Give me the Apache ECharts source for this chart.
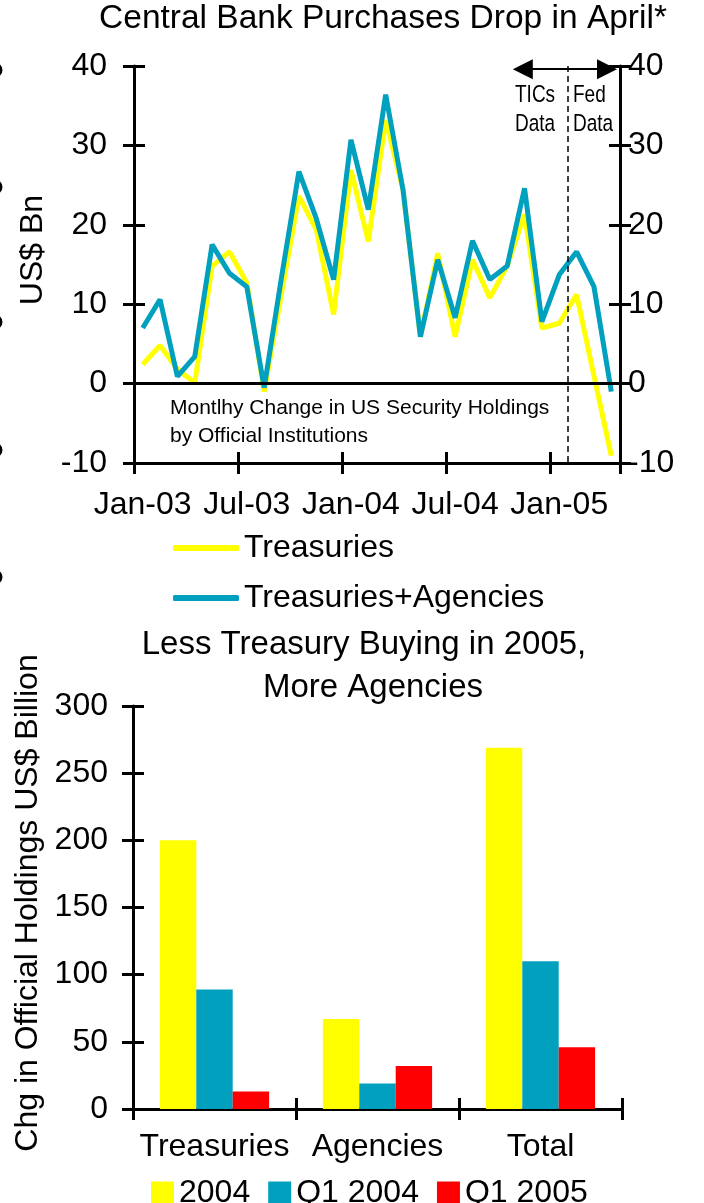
<!DOCTYPE html>
<html>
<head>
<meta charset="utf-8">
<script src="https://cdn.jsdelivr.net/npm/echarts@6/dist/echarts.min.js"></script>
<style>
  html, body { margin: 0; padding: 0; background: #fff; }
  #chart { width: 704px; height: 1203px; }
</style>
</head>
<body>
<div id="chart"></div>
<script>
//---------------------------Data---------------------------
//monthly change, US$ Bn
let months = ['Jan-03','Feb-03','Mar-03','Apr-03','May-03','Jun-03','Jul-03','Aug-03','Sep-03','Oct-03','Nov-03','Dec-03',
              'Jan-04','Feb-04','Mar-04','Apr-04','May-04','Jun-04','Jul-04','Aug-04','Sep-04','Oct-04','Nov-04','Dec-04',
              'Jan-05','Feb-05','Mar-05','Apr-05'];
let treasuries = [2.4, 4.8, 1.8, 0.1, 14.8, 16.6, 12.7, -1.0, 11.4, 23.6, 19.4, 8.7,
                  26.9, 17.9, 33.2, 24.4, 5.9, 16.4, 5.9, 15.6, 10.8, 14.8, 21.3, 7.0,
                  7.6, 11.2, 1.0, -9.1];
let treasAgencies = [7.0, 10.6, 0.9, 3.4, 17.5, 13.9, 12.2, -0.5, 13.4, 26.7, 20.8, 13.1,
                     30.7, 21.9, 36.4, 24.4, 5.9, 15.6, 8.3, 18.0, 13.1, 14.8, 24.6, 7.8,
                     13.7, 16.6, 12.2, -1.0];
//TICs / Fed split (month boundary index)
let splitAt = 25;

//holdings change, US$ Billion
let groups = ['Treasuries', 'Agencies', 'Total'];
let y2004 = [200, 67, 269];
let q1y2004 = [89, 19, 110];
let q1y2005 = [13, 32, 46];

//---------------------------Style---------------------------
let font = "'Liberation Sans', Arial, sans-serif";
let yellow = '#FFFF00';
let teal = '#00A0BE';
let red = '#FF0000';
let black = '#000';

let chart = echarts.init(document.getElementById('chart'));

function txt(x, y, s, size, extra) {
    let o = {
        type: 'text', x: x, y: y, silent: true,
        style: { text: s, fontSize: size, fontFamily: font, fill: black, align: 'center', verticalAlign: 'middle' }
    };
    if (extra) {
        for (let k in extra) { o[k] = extra[k]; }
    }
    return o;
}

function edgeArc(y) {
    return { type: 'circle', shape: { cx: -5, cy: y, r: 6 }, style: { fill: 'none', stroke: black, lineWidth: 3 }, silent: true };
}

//axis helpers
function catAxis(grid, data, tickInside, showLabel, interval) {
    return {
        type: 'category', gridIndex: grid, data: data, position: 'bottom', boundaryGap: true,
        axisLine: { show: !tickInside, onZero: false, lineStyle: { color: black, width: 3 } },
        axisTick: { show: true, inside: tickInside, length: 11, interval: interval, lineStyle: { color: black, width: 3 } },
        axisLabel: { show: showLabel, interval: interval, color: black, fontSize: 32, fontFamily: font, margin: grid == 0 ? 26 : 22 },
        splitLine: { show: false }
    };
}

function valAxis(grid, pos, min, max, step, tickInside, showLabel, margin) {
    return {
        type: 'value', gridIndex: grid, position: pos, min: min, max: max, interval: step,
        axisLine: { show: !tickInside, onZero: false, lineStyle: { color: black, width: 3 } },
        axisTick: { show: true, inside: tickInside, length: 11, lineStyle: { color: black, width: 3 } },
        axisLabel: { show: showLabel, color: black, fontSize: 32, fontFamily: font, margin: margin },
        splitLine: { show: false }
    };
}

let option = {
    backgroundColor: '#fff',
    animation: false,
    grid: [
        { left: 134, top: 66, width: 486, height: 397 },
        { left: 133, top: 706, width: 489, height: 403 }
    ],
    xAxis: [
        catAxis(0, months, false, true, 5),
        catAxis(0, months, true, false, 5),
        { type: 'value', gridIndex: 0, min: 0, max: months.length, show: false },
        catAxis(1, groups, false, true, 0),
        catAxis(1, groups, true, false, 0)
    ],
    yAxis: [
        valAxis(0, 'left', -10, 40, 10, false, true, 27),
        valAxis(0, 'left', -10, 40, 10, true, false, 27),
        valAxis(0, 'right', -10, 40, 10, false, true, 8),
        valAxis(0, 'right', -10, 40, 10, true, false, 8),
        valAxis(1, 'left', 0, 300, 50, false, true, 25),
        valAxis(1, 'left', 0, 300, 50, true, false, 25)
    ],
    legend: [
        {
            data: ['Treasuries', 'Treasuries+Agencies'], orient: 'vertical', left: 168, top: 527,
            itemWidth: 66, itemHeight: 6, itemGap: 18, icon: 'roundRect', selectedMode: false,
            textStyle: { color: black, fontSize: 32, fontFamily: font }
        },
        {
            data: ['2004', 'Q1 2004', 'Q1 2005'], orient: 'horizontal', left: 146, top: 1172,
            itemWidth: 23, itemHeight: 23, itemGap: 18, icon: 'rect', selectedMode: false,
            textStyle: { color: black, fontSize: 32, fontFamily: font }
        }
    ],
    series: [
        {
            name: 'Treasuries', type: 'line', xAxisIndex: 0, yAxisIndex: 0, data: treasuries,
            symbol: 'none', color: yellow, lineStyle: { color: yellow, width: 5 },
            markLine: {
                silent: true, symbol: 'none', label: { show: false },
                lineStyle: { color: black, width: 3, type: 'solid' },
                data: [{ yAxis: 0 }]
            }
        },
        {
            name: 'Treasuries+Agencies', type: 'line', xAxisIndex: 0, yAxisIndex: 0, data: treasAgencies,
            symbol: 'none', color: teal, lineStyle: { color: teal, width: 5 }
        },
        {
            //source split arrows
            name: 'split', type: 'line', xAxisIndex: 2, yAxisIndex: 0, data: [],
            symbol: 'none',
            markLine: {
                silent: true, symbol: ['none', 'triangle'], symbolSize: 20, label: { show: false },
                lineStyle: { color: black, width: 2, type: 'solid' },
                data: [
                    [{ coord: [splitAt, 39.6] }, { coord: [22.4, 39.6] }],
                    [{ coord: [splitAt, 39.6] }, { coord: [27.25, 39.6] }]
                ]
            }
        },
        {
            //source split dashed line
            name: 'splitLine', type: 'line', xAxisIndex: 2, yAxisIndex: 0, data: [],
            symbol: 'none',
            markLine: {
                silent: true, symbol: 'none', label: { show: false },
                lineStyle: { color: black, width: 1.5, type: [6, 4] },
                data: [
                    [{ coord: [splitAt, 40] }, { coord: [splitAt, -10] }]
                ]
            }
        },
        {
            name: '2004', type: 'bar', xAxisIndex: 3, yAxisIndex: 4, data: y2004,
            color: yellow, barGap: '0%', barCategoryGap: '33%'
        },
        {
            name: 'Q1 2004', type: 'bar', xAxisIndex: 3, yAxisIndex: 4, data: q1y2004,
            color: teal, barGap: '0%', barCategoryGap: '33%'
        },
        {
            name: 'Q1 2005', type: 'bar', xAxisIndex: 3, yAxisIndex: 4, data: q1y2005,
            color: red, barGap: '0%', barCategoryGap: '33%'
        }
    ],
    graphic: [
        txt(383, 19, 'Central Bank Purchases Drop in April*', 33.5),
        txt(33, 250, 'US$ Bn', 32, { rotation: Math.PI / 2 }),
        txt(170, 408, 'Montlhy Change in US Security Holdings', 21, {}),
        txt(170, 436, 'by Official Institutions', 21, {}),
        txt(515, 95, 'TICs', 19, { scaleY: 1.25 }),
        txt(515, 124, 'Data', 19, { scaleY: 1.25 }),
        txt(573, 95, 'Fed', 19, { scaleY: 1.25 }),
        txt(573, 124, 'Data', 19, { scaleY: 1.25 }),
        txt(364, 645, 'Less Treasury Buying in 2005,', 33),
        txt(373, 688, 'More Agencies', 33),
        txt(28, 903, 'Chg in Official Holdings US$ Billion', 32, { rotation: Math.PI / 2 }),
        edgeArc(70), edgeArc(187), edgeArc(322), edgeArc(450), edgeArc(577)
    ]
};

//left-aligned annotation text
for (let i = 2; i < 8; i++) {
    option.graphic[i].style.align = 'left';
}

chart.setOption(option);
</script>
</body>
</html>
